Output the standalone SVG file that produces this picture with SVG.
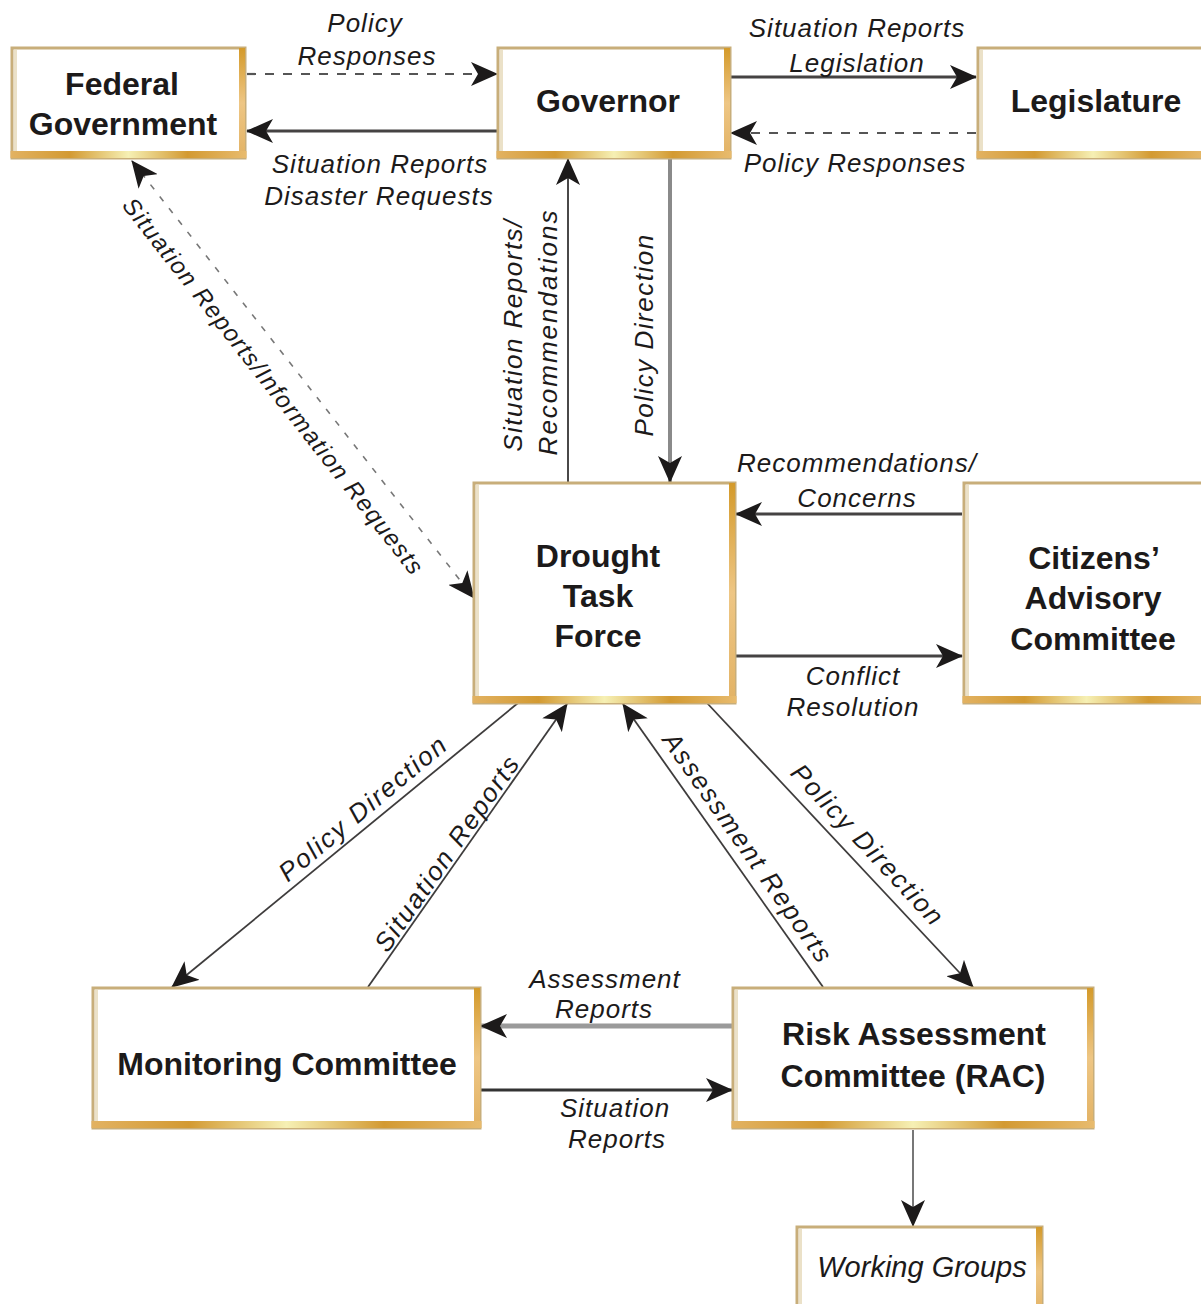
<svg xmlns="http://www.w3.org/2000/svg" width="1201" height="1304" viewBox="0 0 1201 1304">
<defs>
<linearGradient id="gb" x1="0" y1="0" x2="1" y2="0">
<stop offset="0" stop-color="#e2b262"/>
<stop offset="0.25" stop-color="#d39a32"/>
<stop offset="0.5" stop-color="#f6f0b4"/>
<stop offset="0.75" stop-color="#d39a32"/>
<stop offset="1" stop-color="#e8bb6e"/>
</linearGradient>
<linearGradient id="gr" x1="0" y1="0" x2="0" y2="1">
<stop offset="0" stop-color="#d49a2a"/>
<stop offset="0.5" stop-color="#eec684"/>
<stop offset="1" stop-color="#e2b264"/>
</linearGradient>
<marker id="ah" markerUnits="userSpaceOnUse" markerWidth="27" markerHeight="24" viewBox="0 0 27 24" refX="26" refY="12" orient="auto-start-reverse">
<path d="M0,0 L27,12 L0,24 L7,12 z" fill="#1c1a1a"/>
</marker>
<style>
.box{fill:#fff;stroke:#c8ae7a;stroke-width:3}
.inl{fill:#ebe1c8}
.nt{font-family:"Liberation Sans",Arial,sans-serif;font-weight:bold;font-size:32px;fill:#1c1a1a;text-anchor:middle}
.wt{font-family:"Liberation Sans",Arial,sans-serif;font-style:italic;font-size:29px;fill:#1c1a1a;text-anchor:middle}
.el{font-family:"Liberation Sans",Arial,sans-serif;font-style:italic;font-size:26px;letter-spacing:1px;fill:#1c1a1a;text-anchor:middle}
.dl{font-family:"Liberation Sans",Arial,sans-serif;font-style:italic;font-size:26px;letter-spacing:2px;fill:#1c1a1a;text-anchor:middle}
.c{fill:none;marker-end:url(#ah)}
.dk{stroke:#454343;stroke-width:3}
.md{stroke:#4a4848;stroke-width:2}
.th{stroke:#3e3c3c;stroke-width:1.8}
.ds{stroke:#555;stroke-width:2.2;stroke-dasharray:9 9}
</style>
</defs>
<rect width="1201" height="1304" fill="#fff"/>

<g id="connectors">
<line class="c ds" x1="247" y1="74" x2="497" y2="74"/>
<line class="c dk" x1="498" y1="131" x2="247" y2="131"/>
<line class="c dk" x1="731" y1="77" x2="976" y2="77"/>
<line class="c ds" x1="976" y1="133" x2="731" y2="133"/>
<line class="c md" x1="568" y1="482" x2="568" y2="159"/>
<line class="c" stroke="#8a8a8a" stroke-width="4" x1="670" y1="159" x2="670" y2="482"/>
<line class="c dk" x1="962" y1="514" x2="736" y2="514"/>
<line class="c dk" x1="736" y1="656" x2="962" y2="656"/>
<line class="c" stroke="#777" stroke-width="1.6" stroke-dasharray="6 9" marker-start="url(#ah)" x1="132" y1="161" x2="474" y2="598"/>
<line class="c th" x1="518" y1="703" x2="172" y2="987"/>
<line class="c th" x1="368" y1="987" x2="567" y2="704"/>
<line class="c th" x1="823" y1="987" x2="623" y2="704"/>
<line class="c th" x1="707" y1="703" x2="973" y2="987"/>
<line class="c" stroke="#9a9a9a" stroke-width="5" x1="732" y1="1026" x2="481" y2="1026"/>
<line class="c" stroke="#333" stroke-width="3" x1="481" y1="1090" x2="732" y2="1090"/>
<line class="c" stroke="#777" stroke-width="2" x1="913" y1="1130" x2="913" y2="1226"/>
</g>

<g id="edge-labels">
<text class="el" x="365" y="32">Policy</text>
<text class="el" x="367" y="65">Responses</text>
<text class="el" x="380" y="173">Situation Reports</text>
<text class="el" x="379" y="205">Disaster Requests</text>
<text class="el" x="857" y="37">Situation Reports</text>
<text class="el" x="857" y="72">Legislation</text>
<text class="el" x="855" y="172">Policy Responses</text>
<text class="el" x="857" y="472">Recommendations/</text>
<text class="el" x="857" y="507">Concerns</text>
<text class="el" x="853" y="685">Conflict</text>
<text class="el" x="853" y="716">Resolution</text>
<text class="el" x="605" y="988">Assessment</text>
<text class="el" x="604" y="1018">Reports</text>
<text class="el" x="615" y="1117">Situation</text>
<text class="el" x="617" y="1148">Reports</text>
<text class="el" transform="translate(522,335) rotate(-90)" style="letter-spacing:1.5px">Situation Reports/</text>
<text class="el" transform="translate(557,332) rotate(-90)" style="letter-spacing:2px">Recommendations</text>
<text class="el" transform="translate(653,335) rotate(-90)" style="letter-spacing:1.5px">Policy Direction</text>
<text class="dl" transform="translate(274,386) rotate(51.9)" dy="9" style="font-size:24px;letter-spacing:1.4px">Situation Reports/Information Requests</text>
<text class="dl" transform="translate(363,808) rotate(-39.9)" dy="9">Policy Direction</text>
<text class="dl" transform="translate(447,853) rotate(-55)" dy="9">Situation Reports</text>
<text class="dl" transform="translate(748,848) rotate(55)" dy="9">Assessment Reports</text>
<text class="dl" transform="translate(868,845) rotate(46.9)" dy="9">Policy Direction</text>
</g>

<g id="node-federal">
<rect class="box" x="12" y="48" width="233" height="110"/>
<rect class="inl" x="14" y="50" width="3" height="101"/>
<rect fill="url(#gr)" x="239" y="48" width="6" height="110"/>
<rect fill="url(#gb)" x="10.5" y="151" width="236" height="7"/>
<text class="nt" x="122" y="95">Federal</text>
<text class="nt" x="123" y="135">Government</text>
</g>

<g id="node-governor">
<rect class="box" x="498" y="48" width="232" height="110"/>
<rect class="inl" x="500" y="50" width="3" height="101"/>
<rect fill="url(#gr)" x="724" y="48" width="6" height="110"/>
<rect fill="url(#gb)" x="496.5" y="151" width="235" height="7"/>
<text class="nt" x="608" y="112">Governor</text>
</g>

<g id="node-legislature">
<rect class="box" x="978" y="48" width="230" height="110"/>
<rect class="inl" x="980" y="50" width="3" height="101"/>
<rect fill="url(#gb)" x="976.5" y="151" width="233" height="7"/>
<text class="nt" x="1096" y="112">Legislature</text>
</g>

<g id="node-dtf">
<rect class="box" x="474" y="483" width="261" height="220"/>
<rect class="inl" x="476" y="485" width="3" height="211"/>
<rect fill="url(#gr)" x="729" y="483" width="6" height="220"/>
<rect fill="url(#gb)" x="472.5" y="696" width="264" height="7"/>
<text class="nt" x="598" y="567">Drought</text>
<text class="nt" x="598" y="607">Task</text>
<text class="nt" x="598" y="647">Force</text>
</g>

<g id="node-cac">
<rect class="box" x="964" y="483" width="245" height="220"/>
<rect class="inl" x="966" y="485" width="3" height="211"/>
<rect fill="url(#gb)" x="962.5" y="696" width="248" height="7"/>
<text class="nt" x="1094" y="569">Citizens’</text>
<text class="nt" x="1093" y="609">Advisory</text>
<text class="nt" x="1093" y="650">Committee</text>
</g>

<g id="node-mc">
<rect class="box" x="93" y="988" width="387" height="140"/>
<rect class="inl" x="95" y="990" width="3" height="131"/>
<rect fill="url(#gr)" x="474" y="988" width="6" height="140"/>
<rect fill="url(#gb)" x="91.5" y="1121" width="390" height="7"/>
<text class="nt" x="287" y="1075">Monitoring Committee</text>
</g>

<g id="node-rac">
<rect class="box" x="733" y="988" width="360" height="140"/>
<rect class="inl" x="735" y="990" width="3" height="131"/>
<rect fill="url(#gr)" x="1087" y="988" width="6" height="140"/>
<rect fill="url(#gb)" x="731.5" y="1121" width="363" height="7"/>
<text class="nt" x="914" y="1045">Risk Assessment</text>
<text class="nt" x="913" y="1087">Committee (RAC)</text>
</g>

<g id="node-wg">
<rect class="box" x="797" y="1227" width="245" height="90"/>
<rect class="inl" x="799" y="1229" width="3" height="80"/>
<rect fill="url(#gr)" x="1036" y="1227" width="6" height="90"/>
<text class="wt" x="922" y="1277">Working Groups</text>
</g>
</svg>
